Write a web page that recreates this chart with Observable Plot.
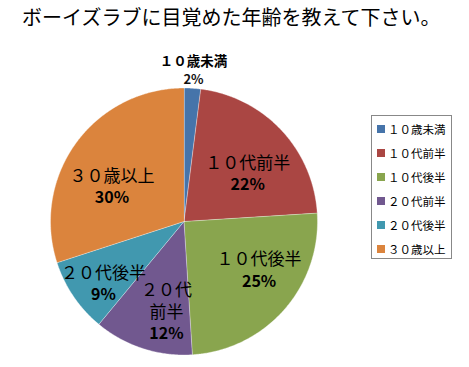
<!DOCTYPE html>
<html>
<head>
<meta charset="utf-8">
<script src="https://cdn.jsdelivr.net/npm/d3@7"></script>
<script src="https://cdn.jsdelivr.net/npm/@observablehq/plot@0.6"></script>
<style>
  html, body { margin: 0; padding: 0; background: #fff; }
  #wrap { position: relative; width: 469px; height: 367px; font-family: "Noto Sans CJK JP", sans-serif; overflow: hidden; }
  #wrap svg { position: absolute; left: 0; top: 0; }
  #title { position: absolute; left: 22px; top: 7px; font-size: 20px; line-height: 20px; white-space: nowrap; color: #000; }
  #legend { position: absolute; left: 371px; top: 115px; width: 79px; height: 142px; border: 1px solid #888; background: #fff; }
  .li { position: absolute; left: 0; height: 14px; }
  .sw { position: absolute; left: 5px; top: 3px; width: 8px; height: 8px; }
  .lt { position: absolute; left: 16px; top: 0; font-size: 11.5px; line-height: 14px; white-space: nowrap; color: #000; }
</style>
</head>
<body>
<div id="wrap"></div>
<script>
// ---- data ----
const title = "ボーイズラブに目覚めた年齢を教えて下さい。";
const categories = ["１０歳未満", "１０代前半", "１０代後半", "２０代前半", "２０代後半", "３０歳以上"];
const sliceLabels = ["１０歳未満", "１０代前半", "１０代後半", "２０代\n前半", "２０代後半", "３０歳以上"];
const values = [2, 22, 25, 12, 9, 30];
const colors = ["#4674AA", "#AA4643", "#89A54E", "#71588F", "#4198AF", "#DB843D"];

// ---- layout ----
const R = 133.5, CX = 183.5, CY = 221;
const labelNudge = [[0, 0], [0.5, 11], [10, -9], [9.3, 18.4], [-8.7, 12.7], [-1.8, 16]]; // px
const total = d3.sum(values);

// pie geometry from values (angles clockwise from 12 o'clock)
const slicePts = [];
const labels = [];
let acc = 0;
values.forEach((v, i) => {
  const a0 = acc / total * 2 * Math.PI;
  acc += v;
  const a1 = acc / total * 2 * Math.PI;
  const n = Math.max(2, Math.ceil((a1 - a0) / (Math.PI / 360)));
  slicePts.push({cat: categories[i], x: 0, y: 0});
  for (let k = 0; k <= n; k++) {
    const a = a0 + (a1 - a0) * k / n;
    slicePts.push({cat: categories[i], x: Math.sin(a), y: Math.cos(a)});
  }
  const mid = (a0 + a1) / 2;
  const outside = v / total < 0.05;
  const r = outside ? 1.13 : 0.65;
  const ax = Math.sin(mid) * r + labelNudge[i][0] / R;
  const ay = Math.cos(mid) * r - labelNudge[i][1] / R;
  const lines = sliceLabels[i].split("\n").length;
  const gap = outside ? 9 : 11.5;
  labels.push({
    cat: categories[i], outside,
    name: sliceLabels[i], pct: Math.round(v / total * 100) + "%",
    x: ax,
    nameY: ay + (gap + (lines - 1) * 11) / R,
    pctY: ay - gap / R
  });
});

const inside = labels.filter(d => !d.outside);
const outsideL = labels.filter(d => d.outside);
const font = "Noto Sans CJK JP";

const chart = Plot.plot({
  width: 469, height: 367,
  margin: 0,
  style: {background: "transparent", fontFamily: font},
  x: {domain: [-1, 1], range: [CX - R, CX + R], axis: null},
  y: {domain: [-1, 1], range: [CY + R, CY - R], axis: null},
  color: {domain: categories, range: colors},
  marks: [
    Plot.line(slicePts, {x: "x", y: "y", z: "cat", fill: "cat", stroke: "#fff", strokeWidth: 0.6, strokeOpacity: 0.6, curve: "linear-closed"}),
    Plot.text(inside, {x: "x", y: "nameY", text: "name", fontSize: 17, lineHeight: 1.3, lineAnchor: "middle", fill: "#000", fontFamily: font}),
    Plot.text(inside, {x: "x", y: "pctY", text: "pct", fontSize: 16, fontWeight: "bold", lineAnchor: "middle", fill: "#000", fontFamily: font}),
    Plot.text(outsideL, {x: "x", y: "nameY", text: "name", fontSize: 13.5, fontWeight: "bold", lineAnchor: "middle", fill: "#000", fontFamily: font}),
    Plot.text(outsideL, {x: "x", y: "pctY", text: "pct", fontSize: 13, fontWeight: "bold", lineAnchor: "middle", fill: "#111", fontFamily: font})
  ]
});

const wrap = document.getElementById("wrap");
wrap.appendChild(chart);

const t = document.createElement("div");
t.id = "title"; t.textContent = title;
wrap.appendChild(t);

const lg = document.createElement("div");
lg.id = "legend";
categories.forEach((c, i) => {
  const it = document.createElement("div");
  it.className = "li";
  it.style.top = (6 + i * 24) + "px";
  const sw = document.createElement("div");
  sw.className = "sw"; sw.style.background = colors[i];
  const tx = document.createElement("div");
  tx.className = "lt"; tx.textContent = c;
  it.appendChild(sw); it.appendChild(tx);
  lg.appendChild(it);
});
wrap.appendChild(lg);
</script>
</body>
</html>
